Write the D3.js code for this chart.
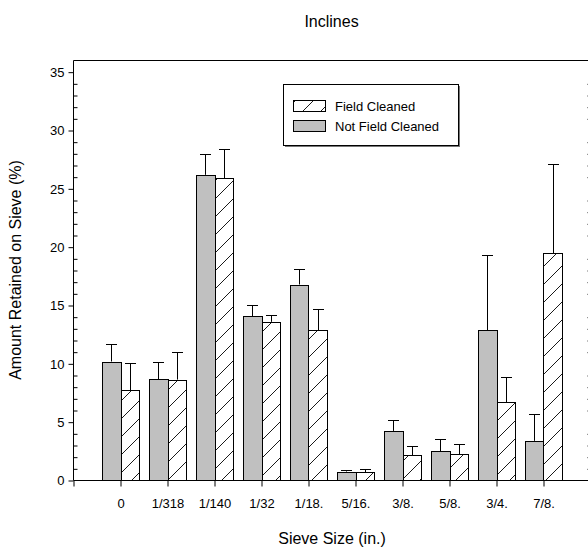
<!DOCTYPE html>
<html>
<head>
<meta charset="utf-8">
<script src="https://cdn.jsdelivr.net/npm/d3@7"></script>
<style>
  body { margin: 0; background: #fff; }
  svg { display: block; font-family: "Liberation Sans", Arial, sans-serif; }
</style>
</head>
<body>
<svg width="588" height="551"></svg>
<script>
const CATEGORIES = ["0", "1/318", "1/140", "1/32", "1/18.", "5/16.", "3/8.", "5/8.", "3/4.", "7/8."];
const NOT_CLEANED = [10.2, 8.7, 26.2, 14.1, 16.8, 0.77, 4.25, 2.5, 12.9, 3.4];
const NOT_CLEANED_ERR = [1.5, 1.45, 1.8, 0.95, 1.3, 0.14, 0.92, 1.05, 6.4, 2.3];
const CLEANED = [7.75, 8.65, 25.9, 13.6, 12.9, 0.72, 2.15, 2.25, 6.7, 19.5];
const CLEANED_ERR = [2.3, 2.35, 2.55, 0.6, 1.8, 0.25, 0.8, 0.9, 2.15, 7.65];
const Y_TICKS = [0, 5, 10, 15, 20, 25, 30, 35];

const plotLeft = 73.5, plotRight = 590.5, plotTop = 60.5, plotBottom = 480.5;
const barW = 18.7;

const svg = d3.select('svg');

// hatch pattern
const defs = svg.append('defs');
defs.append('pattern')
    .attr('id', 'hatch')
    .attr('patternUnits', 'userSpaceOnUse')
    .attr('width', 18)
    .attr('height', 18)
    .call(p => {
        p.append('rect').attr('width', 18).attr('height', 18).attr('fill', '#fff');
        p.append('path').attr('d', 'M-2,20 L20,-2').attr('stroke', '#000').attr('stroke-width', 0.9);
    });

// x positions by index (slot 0 is left empty like the original)
const xScale = d3.scaleLinear()
    .domain([0, CATEGORIES.length + 1])
    .range([plotLeft, plotRight]);

const yScale = d3.scaleLinear()
    .domain([0, 36])
    .range([plotBottom, plotTop]);

const rows = CATEGORIES.map((c, i) => ({
    cat: c, i: i + 1,
    nc: NOT_CLEANED[i], ncErr: NOT_CLEANED_ERR[i],
    fc: CLEANED[i], fcErr: CLEANED_ERR[i]
}));

// frame top line
svg.append('line')
    .attr('x1', plotLeft).attr('x2', plotRight)
    .attr('y1', plotTop).attr('y2', plotTop)
    .attr('stroke', '#000');

// error bars (drawn first so bars cover the base)
function errBars(key, errKey, offset) {
    const g = svg.append('g').attr('stroke', '#000').attr('stroke-width', 1);
    rows.forEach(d => {
        const cx = Math.round(xScale(d.i) + offset) + 0.5;
        const y0 = yScale(d[key]);
        const y1 = Math.round(yScale(d[key] + d[errKey])) + 0.5;
        g.append('line').attr('x1', cx).attr('x2', cx).attr('y1', y0).attr('y2', y1);
        g.append('line').attr('x1', cx - 5.5).attr('x2', cx + 5.5).attr('y1', y1).attr('y2', y1);
    });
}
errBars('nc', 'ncErr', -barW / 2);
errBars('fc', 'fcErr', barW / 2);

// not field cleaned bars
svg.append('g')
    .selectAll('rect')
    .data(rows)
    .enter()
    .append('rect')
    .attr('x', d => Math.round(xScale(d.i) - barW) + 0.5)
    .attr('width', d => Math.round(xScale(d.i)) - Math.round(xScale(d.i) - barW))
    .attr('y', d => Math.round(yScale(d.nc)) + 0.5)
    .attr('height', d => plotBottom - (Math.round(yScale(d.nc)) + 0.5))
    .attr('fill', '#c0c0c0')
    .attr('stroke', '#000')
    .attr('stroke-width', 1);

// field cleaned bars
svg.append('g')
    .selectAll('rect')
    .data(rows)
    .enter()
    .append('rect')
    .attr('x', d => Math.round(xScale(d.i)) + 0.5)
    .attr('width', d => Math.round(xScale(d.i) + barW) - Math.round(xScale(d.i)))
    .attr('y', d => Math.round(yScale(d.fc)) + 0.5)
    .attr('height', d => plotBottom - (Math.round(yScale(d.fc)) + 0.5))
    .attr('fill', 'url(#hatch)')
    .attr('stroke', '#000')
    .attr('stroke-width', 1);

// left axis: major ticks outward, minor inward
const yAxis = svg.append('g').attr('transform', `translate(${plotLeft},0)`)
    .call(d3.axisLeft(yScale).tickValues(Y_TICKS).tickSize(5).tickPadding(4).tickFormat(d3.format('d')));
yAxis.select('.domain').attr('d', `M0,${plotTop}V${plotBottom}`);
yAxis.selectAll('text').attr('font-size', 13).attr('font-family', '"Liberation Sans", Arial, sans-serif');

const minor = d3.range(0, 36).filter(v => v % 5 !== 0);
svg.append('g').attr('transform', `translate(${plotLeft},0)`)
    .call(d3.axisRight(yScale).tickValues(minor).tickSize(4).tickFormat(''))
    .select('.domain').remove();

// right axis: minor ticks inward
const rAxis = svg.append('g').attr('transform', `translate(${plotRight},0)`)
    .call(d3.axisLeft(yScale).tickValues(minor).tickSize(3).tickFormat(''));
rAxis.select('.domain').attr('d', `M0,${plotTop}V${plotBottom}`);

// bottom axis
const xAxis = svg.append('g').attr('transform', `translate(0,${plotBottom})`)
    .call(d3.axisBottom(xScale)
        .tickValues(d3.range(0, CATEGORIES.length + 1))
        .tickSize(6)
        .tickPadding(12)
        .tickFormat(i => i === 0 ? '' : CATEGORIES[i - 1]));
xAxis.select('.domain').attr('d', `M${plotLeft},0H${plotRight}`);
xAxis.selectAll('text').attr('font-size', 13).attr('font-family', '"Liberation Sans", Arial, sans-serif');

// title and axis labels
svg.append('text')
    .attr('x', 331.5).attr('y', 27)
    .attr('text-anchor', 'middle')
    .attr('font-size', 16)
    .text('Inclines');

svg.append('text')
    .attr('x', 332).attr('y', 544)
    .attr('text-anchor', 'middle')
    .attr('font-size', 16)
    .text('Sieve Size (in.)');

svg.append('text')
    .attr('transform', 'translate(21,270) rotate(-90)')
    .attr('text-anchor', 'middle')
    .attr('font-size', 16)
    .text('Amount Retained on Sieve (%)');

// legend
const legend = svg.append('g');
legend.append('rect')
    .attr('x', 285).attr('y', 86).attr('width', 175).attr('height', 61)
    .attr('fill', '#777');
legend.append('rect')
    .attr('x', 283.5).attr('y', 84.5).attr('width', 175).attr('height', 61)
    .attr('fill', '#fff').attr('stroke', '#000');

const legendItems = [
    { label: 'Field Cleaned', fill: 'url(#hatch)' },
    { label: 'Not Field Cleaned', fill: '#c0c0c0' }
];
legendItems.forEach((d, i) => {
    legend.append('rect')
        .attr('x', 293.5).attr('y', 100.5 + i * 20)
        .attr('width', 32).attr('height', 11)
        .attr('fill', d.fill).attr('stroke', '#000');
    legend.append('text')
        .attr('x', 335).attr('y', 111 + i * 20)
        .attr('font-size', 13)
        .text(d.label);
});
</script>
</body>
</html>
